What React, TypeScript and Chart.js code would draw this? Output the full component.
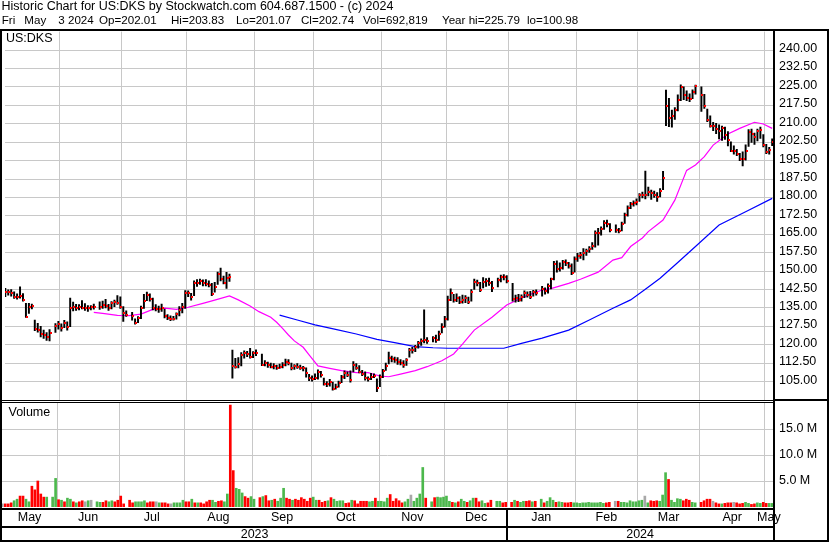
import React, { useEffect, useRef } from "react";
import { Chart, registerables } from "chart.js";

Chart.register(...registerables);

// ---------------- data ----------------
// x positions are weekday slots: slot 0 = Fri May 5 2023 ... slot 260 = Fri May 3 2024
const holidaySlots = [16, 31, 42, 86, 144, 166, 171, 181, 206, 235];
const slotCount = 261;

const highs = [
  // May 2023
  143.0, 142.4, 142.5, 141.6, 140.8, 143.6, 140.9, 136.9, 136.9, 136.6, 130.1, 128.8, 127.5, 126.0, 125.0, 126.2, 128.6, 129.6,
  // Jun
  128.5, 130.0, 129.4, 139.0, 137.4, 136.5, 136.4, 138.0, 136.8, 136.0, 136.0, 136.6, 137.5, 137.8, 138.5, 136.5, 137.6, 138.2, 140.0, 139.5, 135.6,
  // Jul
  133.8, 133.2, 130.6, 131.5, 135.8, 140.6, 141.5, 140.8, 139.0, 136.4, 135.8, 136.6, 134.6, 132.3, 131.8, 131.6, 133.0, 135.6, 136.9, 142.1,
  // Aug
  142.0, 141.0, 146.0, 146.6, 146.8, 146.5, 146.6, 146.0, 145.0, 145.4, 149.6, 151.2, 148.0, 149.5, 148.8, 117.9, 114.5, 114.8, 116.8, 117.6, 117.4, 118.6, 117.2,
  // Sep
  118.0, 116.2, 113.6, 113.0, 112.6, 112.4, 111.8, 112.2, 112.8, 114.2, 114.0, 112.6, 112.0, 112.4, 111.8, 111.2, 110.6, 108.0, 107.4, 108.2,
  // Oct
  109.8, 109.2, 106.5, 105.0, 106.0, 104.8, 104.0, 105.2, 107.6, 109.4, 109.0, 109.4, 113.2, 112.4, 111.6, 109.6, 109.0, 107.0, 108.4, 108.2, 106.2, 107.8,
  // Nov
  110.0, 112.6, 117.0, 115.4, 115.0, 114.8, 114.0, 113.6, 114.4, 118.6, 119.0, 119.8, 121.4, 122.4, 134.2, 123.0, 123.4, 124.0, 125.6, 128.6, 131.6,
  // Dec
  139.8, 142.8, 140.6, 140.8, 139.6, 140.2, 140.0, 139.4, 142.5, 146.8, 146.4, 145.4, 147.4, 147.0, 147.2, 145.8, 147.2, 148.4, 148.6, 148.2,
  // Jan 2024
  145.0, 140.2, 140.6, 140.4, 142.0, 141.6, 141.8, 142.2, 142.4, 143.8, 143.2, 144.8, 147.2, 154.0, 154.2, 153.4, 154.4, 154.6, 153.6, 153.0, 155.8,
  // Feb
  157.2, 157.6, 159.2, 159.0, 160.0, 161.6, 166.4, 167.4, 168.0, 170.6, 170.8, 169.4, 168.8, 167.4, 170.0, 173.6, 176.6, 178.0, 178.6, 179.4,
  // Mar
  181.6, 182.2, 190.7, 184.2, 183.0, 182.6, 182.0, 183.6, 190.6, 223.7, 220.3, 215.6, 216.6, 221.8, 225.79, 225.0, 223.4, 222.2, 223.8, 225.7,
  // Apr
  225.0, 222.0, 216.0, 213.2, 210.6, 210.2, 209.6, 209.0, 208.6, 206.8, 202.6, 201.0, 199.6, 198.0, 198.6, 201.4, 207.6, 207.8, 206.2, 207.8, 208.6, 205.6,
  // May
  201.6, 200.4, 203.83,
];

const lows = [
  139.6, 140.2, 139.8, 138.9, 138.6, 139.0, 137.8, 131.2, 132.8, 134.6, 125.8, 125.2, 123.2, 122.6, 121.8, 121.6, 125.0, 126.4,
  125.6, 127.0, 126.0, 127.4, 133.8, 134.0, 134.2, 134.6, 134.0, 133.6, 134.2, 134.5, 134.4, 134.8, 135.0, 134.0, 134.6, 135.5, 136.4, 134.8, 129.5,
  131.6, 130.0, 128.4, 129.0, 130.6, 134.8, 138.0, 137.8, 134.2, 133.8, 133.2, 133.6, 131.0, 130.2, 129.8, 130.0, 130.4, 131.8, 133.0, 134.8,
  139.6, 138.2, 140.0, 143.8, 144.6, 144.0, 144.0, 143.6, 140.0, 141.4, 144.6, 146.0, 144.8, 143.0, 145.8, 106.4, 110.5, 110.6, 111.4, 114.6, 115.2, 114.6, 114.8,
  115.6, 111.5, 111.4, 110.8, 110.6, 110.2, 110.0, 110.4, 110.6, 111.4, 111.8, 109.8, 110.0, 110.4, 110.0, 109.4, 106.8, 105.4, 105.2, 105.8,
  106.0, 106.8, 103.6, 103.0, 103.2, 101.5, 102.0, 102.8, 104.6, 106.2, 107.0, 104.8, 109.0, 110.0, 108.6, 107.4, 105.6, 105.2, 105.8, 106.6, 100.98, 103.0,
  106.6, 109.6, 112.2, 113.0, 112.8, 112.0, 111.8, 110.8, 111.6, 115.0, 116.6, 117.2, 118.6, 119.8, 120.8, 120.6, 121.2, 121.0, 121.8, 124.8, 127.2,
  130.0, 138.0, 137.4, 137.6, 136.8, 137.0, 137.2, 136.8, 137.8, 142.6, 144.0, 141.6, 143.2, 143.8, 144.2, 141.6, 143.6, 145.6, 146.4, 145.2,
  137.8, 137.4, 137.6, 137.8, 139.2, 139.4, 138.8, 139.8, 140.2, 139.8, 140.6, 141.0, 142.8, 146.4, 149.6, 150.0, 150.8, 152.2, 151.2, 148.6, 149.6,
  154.0, 155.2, 154.6, 156.4, 157.6, 158.8, 159.8, 160.6, 164.6, 167.0, 168.0, 166.0, 165.8, 165.6, 166.4, 169.4, 172.4, 175.4, 176.4, 177.0,
  178.4, 179.8, 179.4, 180.6, 179.2, 180.0, 178.4, 180.2, 183.2, 209.2, 208.8, 208.6, 211.8, 215.2, 219.4, 219.8, 219.4, 219.0, 220.2, 222.0,
  215.0, 216.2, 210.8, 208.6, 207.2, 206.0, 203.8, 203.2, 203.6, 201.0, 198.6, 197.6, 197.0, 195.0, 192.8, 195.2, 200.8, 202.4, 201.6, 203.0, 204.0, 200.6,
  197.8, 197.6, 201.07,
];

const closes = [
  141.6, 141.4, 141.2, 139.5, 139.6, 140.0, 138.2, 131.5, 135.5, 135.8, 126.4, 126.1, 124.4, 124.0, 123.3, 125.0, 127.5, 128.3,
  126.8, 128.8, 127.4, 134.9, 135.5, 135.0, 135.3, 135.1, 134.8, 134.8, 135.3, 135.3, 135.6, 136.2, 136.0, 134.8, 136.9, 137.4, 137.0, 135.5, 133.1,
  132.1, 131.7, 129.0, 130.8, 134.8, 138.0, 140.3, 138.5, 134.8, 134.5, 134.5, 135.0, 131.7, 130.8, 130.6, 130.6, 132.4, 134.2, 135.5, 141.2,
  141.0, 139.3, 145.3, 145.0, 146.1, 145.3, 144.8, 144.5, 140.7, 143.6, 148.7, 146.6, 145.3, 147.0, 147.5, 111.5, 111.1, 112.0, 115.8, 116.5, 116.2, 115.2, 116.5,
  116.8, 111.8, 112.5, 111.8, 111.1, 111.2, 110.7, 111.1, 111.8, 113.1, 112.7, 110.4, 111.4, 111.1, 110.7, 110.4, 108.4, 106.4, 106.0, 106.4,
  109.1, 107.7, 104.1, 103.9, 105.0, 102.2, 103.0, 104.6, 106.8, 108.4, 107.7, 105.7, 111.8, 110.7, 109.1, 108.1, 106.4, 105.9, 107.0, 107.3, 102.6, 107.0,
  109.2, 111.2, 114.5, 114.1, 113.8, 113.1, 112.5, 111.8, 113.8, 117.9, 117.9, 119.0, 120.6, 121.7, 122.0, 121.7, 122.6, 122.0, 124.3, 127.4, 130.4,
  138.3, 141.2, 138.3, 139.0, 137.6, 138.3, 138.9, 137.6, 141.6, 145.7, 145.0, 142.3, 145.7, 146.1, 145.0, 143.0, 146.4, 147.7, 147.5, 146.1,
  138.5, 138.9, 138.3, 139.6, 141.0, 140.3, 139.6, 141.6, 141.0, 142.6, 142.0, 144.0, 146.7, 152.9, 150.7, 151.1, 153.6, 153.2, 152.2, 149.4, 155.0,
  156.3, 156.6, 157.2, 158.3, 158.9, 160.2, 165.4, 165.6, 167.0, 169.6, 169.2, 166.7, 166.7, 166.5, 169.2, 172.9, 175.8, 177.3, 177.9, 178.3,
  180.8, 181.0, 181.0, 182.3, 181.6, 181.0, 180.3, 182.7, 188.0, 217.3, 212.2, 213.1, 215.6, 219.6, 225.1, 221.7, 220.6, 219.9, 223.1, 225.3,
  221.5, 217.3, 211.5, 209.2, 209.2, 207.8, 207.1, 208.1, 205.6, 203.4, 199.0, 199.0, 197.5, 195.6, 195.5, 199.0, 206.5, 205.8, 204.7, 207.2, 207.5, 201.3,
  198.6, 199.3, 202.74,
];

// volume in millions of shares
const volumes = [
  0.6, 0.6, 0.6, 0.8, 1.2, 1.5, 2.1, 2.1, 1.5, 1.0, 4.0, 3.3, 5.0, 2.5, 1.9, 1.9, 1.9, 5.5,
  1.4, 1.3, 1.0, 1.7, 1.5, 1.0, 0.8, 1.0, 1.2, 1.0, 1.2, 1.3, 1.0, 0.9, 0.9, 1.2, 1.0, 1.2, 1.0, 1.3, 2.1,
  0.6, 1.3, 0.8, 1.0, 1.0, 1.0, 1.2, 0.8, 1.0, 1.0, 1.0, 0.8, 0.8, 0.8, 0.6, 0.6, 0.8, 0.8, 0.8, 1.3,
  1.0, 1.0, 1.5, 0.8, 0.8, 0.8, 0.6, 1.0, 1.3, 1.3, 0.9, 1.1, 1.2, 1.0, 2.5, 19.6, 7.0, 3.6, 3.4, 2.7, 2.0, 1.7, 2.0,
  1.5, 1.8, 2.0, 2.2, 1.2, 1.3, 1.5, 1.1, 1.7, 3.6, 1.7, 1.5, 1.3, 1.5, 1.3, 1.8, 1.5, 1.1, 1.7, 1.9,
  1.3, 1.3, 0.9, 1.1, 1.2, 1.8, 1.5, 1.1, 1.2, 1.2, 0.7, 0.8, 1.3, 1.2, 0.6, 1.1, 1.1, 1.1, 1.0, 1.1, 1.7, 1.1,
  1.1, 1.0, 1.7, 2.4, 1.1, 1.6, 1.2, 0.8, 1.0, 1.5, 2.3, 1.1, 1.7, 2.5, 7.6, 1.7, 1.0, 1.8, 1.9, 1.8, 1.9,
  2.1, 1.1, 0.9, 0.8, 1.0, 1.5, 1.1, 0.9, 1.2, 1.7, 1.7, 1.0, 1.2, 0.7, 0.8, 1.3, 1.1, 1.1, 0.8, 0.9,
  0.9, 1.3, 1.1, 0.9, 1.1, 1.1, 1.2, 1.0, 1.1, 1.5, 0.8, 1.1, 1.8, 1.3, 0.9, 1.0, 0.9, 0.8, 0.8, 0.9, 0.8,
  0.8, 0.7, 0.8, 0.8, 0.9, 0.8, 0.8, 0.8, 0.9, 0.7, 0.8, 0.9, 1.1, 1.1, 0.9, 0.9, 0.8, 1.2, 1.0, 1.0,
  1.2, 1.3, 2.1, 0.8, 1.2, 1.1, 1.2, 1.1, 2.3, 6.6, 5.3, 1.3, 0.9, 1.6, 1.5, 1.2, 1.5, 1.3, 0.9, 0.8,
  0.9, 1.2, 1.5, 1.5, 1.1, 0.8, 0.6, 0.6, 0.7, 0.8, 0.8, 0.9, 0.8, 0.6, 0.7, 0.9, 0.7, 0.5, 0.6, 0.8, 0.7, 0.9,
  0.7, 0.7, 0.69,
];

// moving averages (slot, value)
const maPinkSlots = [30, 33, 38, 42, 46, 50, 54, 58, 62, 67, 71, 76, 79, 83, 86, 90, 92, 94, 96, 98, 101, 103, 106, 110, 114, 119, 123, 127, 130, 134, 139, 143, 148, 152, 155, 159, 165, 170, 176, 182, 185, 191, 195, 201, 206, 209, 212, 216, 218, 223, 227, 231, 234, 237, 240, 245, 249, 254, 257, 260];
const maPinkValues = [133.2, 132.8, 132.0, 131.9, 132.5, 134.4, 134.9, 134.4, 135.3, 136.9, 138.2, 139.9, 138.3, 135.8, 133.5, 131.2, 129.2, 126.7, 124.0, 121.6, 119.0, 115.9, 111.4, 110.4, 109.5, 108.7, 108.7, 107.3, 107.0, 108.1, 109.5, 111.1, 113.5, 116.3, 120.3, 126.0, 131.2, 136.2, 139.6, 142.3, 142.9, 145.0, 146.7, 149.6, 154.5, 155.5, 160.0, 163.5, 166.1, 170.8, 178.9, 191.0, 193.2, 196.6, 201.3, 205.8, 208.1, 210.6, 209.9, 208.1];
const maBlueSlots = [93, 99, 105, 112, 119, 126, 132, 139, 145, 150, 160, 169, 175, 182, 191, 198, 206, 212, 217, 222, 228, 234, 242, 251, 260];
const maBlueValues = [132.1, 130.1, 128.1, 126.3, 124.4, 122.2, 120.9, 119.3, 118.8, 118.6, 118.6, 118.6, 120.6, 122.7, 126.0, 130.1, 134.9, 138.3, 142.6, 147.1, 153.5, 160.0, 168.8, 174.2, 179.6];

const monthGridSlots = [19, 40, 62, 85, 105, 128, 150, 171, 194, 215, 236, 258];
const monthLabels = ["May", "Jun", "Jul", "Aug", "Sep", "Oct", "Nov", "Dec", "Jan", "Feb", "Mar", "Apr", "May"];
const yearLabels = ["2023", "2024"];
const yearBreakSlot = 171;

const priceTicks = [105, 112.5, 120, 127.5, 135, 142.5, 150, 157.5, 165, 172.5, 180, 187.5, 195, 202.5, 210, 217.5, 225, 232.5, 240];
const volumeTicks = [5, 10, 15];

const headerLine1 = "Historic Chart for US:DKS by Stockwatch.com 604.687.1500 - (c) 2024";
const headerLine2: [string, number][] = [
  ["Fri", 1.7], ["May", 24.3], ["3 2024", 58.3], ["Op=202.01", 99], ["Hi=203.83", 171], ["Lo=201.07", 236],
  ["Cl=202.74", 301], ["Vol=692,819", 363], ["Year hi=225.79", 442], ["lo=100.98", 527],
];

// ---------------- layout / style ----------------
const X_MIN = -0.1;
const X_MAX = 260.28;
const FONT = "'Liberation Sans', Arial, sans-serif";
const GRID = "#c8c8c8";
const GREEN = "#4cb84c";
const RED = "#ff0000";
const GRAY = "#a8a8a8";

export default function App() {
  const priceRef = useRef<HTMLCanvasElement>(null);
  const volRef = useRef<HTMLCanvasElement>(null);

  useEffect(() => {
    const tradingSlots: number[] = [];
    for (let s = 0; s < slotCount; s++) if (!holidaySlots.includes(s)) tradingSlots.push(s);

    const mark = document.createElement("canvas");
    mark.width = 4;
    mark.height = 2;
    const mc = mark.getContext("2d")!;
    mc.fillStyle = RED;
    mc.fillRect(2, 0, 2, 2);

    const crisp = {
      id: "crisp",
      beforeDatasetsDraw(chart: any) {
        chart.ctx.imageSmoothingEnabled = false;
      },
    };

    const bounds = [X_MIN, ...monthGridSlots.map((s) => s - 0.5), X_MAX];
    const monthCenters = monthLabels.map((_, i) => (bounds[i] + bounds[i + 1]) / 2);
    const yearBounds = [X_MIN, yearBreakSlot - 0.5, X_MAX];
    const yearCenters = yearLabels.map((_, i) => (yearBounds[i] + yearBounds[i + 1]) / 2);

    const gridX = () => ({
      type: "linear",
      axis: "x",
      position: "bottom",
      min: X_MIN,
      max: X_MAX,
      bounds: "data",
      offset: false,
      weight: 0,
      grid: { color: GRID, lineWidth: 1, drawTicks: false, offset: false },
      border: { display: false },
      ticks: { display: false },
      afterBuildTicks: (s: any) => {
        s.ticks = monthGridSlots.map((v) => ({ value: v - 0.5 }));
      },
      afterFit: (s: any) => {
        s.height = 0;
      },
    });

    const volumeColors = closes.map((c, i) =>
      i === 0 ? GRAY : c > closes[i - 1] ? GREEN : c < closes[i - 1] ? RED : GRAY
    );

    Chart.defaults.font.family = FONT;

    const priceChart = new Chart(priceRef.current!, {
      type: "bar",
      data: {
        datasets: [
          {
            type: "line",
            data: maPinkSlots.map((x, i) => ({ x, y: maPinkValues[i] })),
            borderColor: "#ff00ff",
            borderWidth: 1.2,
            pointRadius: 0,
            tension: 0,
            order: 3,
          } as any,
          {
            type: "line",
            data: maBlueSlots.map((x, i) => ({ x, y: maBlueValues[i] })),
            borderColor: "#0000ff",
            borderWidth: 1.2,
            pointRadius: 0,
            tension: 0,
            order: 3,
          } as any,
          {
            type: "bar",
            data: tradingSlots.map((x, i) => ({ x, y: [lows[i], highs[i]] })),
            backgroundColor: "#000000",
            borderWidth: 0,
            barThickness: 1.3,
            order: 2,
          } as any,
          {
            type: "scatter",
            data: tradingSlots.map((x, i) => ({ x, y: closes[i] })),
            pointStyle: mark,
            pointRadius: 1,
            order: 1,
          } as any,
        ],
      },
      options: {
        responsive: false,
        animation: false,
        devicePixelRatio: 1,
        layout: { padding: { left: 2, top: 31.6, right: 0, bottom: 142.9 } },
        plugins: { legend: { display: false }, tooltip: { enabled: false } },
        scales: {
          x: gridX() as any,
          y: {
            type: "linear",
            position: "right",
            min: 97.5,
            max: 247.5,
            bounds: "data",
            grid: { color: GRID, lineWidth: 1, drawTicks: false },
            border: { display: false },
            ticks: {
              color: "#000",
              font: { family: FONT, size: 12.5 },
              padding: 6,
              labelOffset: -1.5,
              autoSkip: false,
              callback: (v: any) => Number(v).toFixed(2),
            },
            afterBuildTicks: (s: any) => {
              s.ticks = priceTicks.map((v) => ({ value: v }));
            },
            afterFit: (s: any) => {
              s.width = 57;
            },
          } as any,
        },
      },
      plugins: [crisp],
    });

    const yearSeparator = {
      id: "yearSeparator",
      afterDraw(chart: any) {
        const sc = chart.scales.xm;
        const px = sc.getPixelForValue(yearBreakSlot - 0.5);
        const ctx = chart.ctx;
        ctx.save();
        ctx.fillStyle = "#000";
        ctx.fillRect(Math.round(px) - 1, sc.top + 1, 2, chart.height - sc.top - 2);
        ctx.restore();
      },
    };

    const volChart = new Chart(volRef.current!, {
      type: "bar",
      data: {
        datasets: [
          {
            data: tradingSlots.map((x, i) => ({ x, y: volumes[i] })),
            backgroundColor: volumeColors,
            borderWidth: 0,
            barThickness: 2,
          } as any,
        ],
      },
      options: {
        responsive: false,
        animation: false,
        devicePixelRatio: 1,
        layout: { padding: { left: 2, top: 403, right: 0, bottom: 0 } },
        plugins: { legend: { display: false }, tooltip: { enabled: false } },
        scales: {
          x: gridX() as any,
          xm: {
            type: "linear",
            axis: "x",
            position: "bottom",
            min: X_MIN,
            max: X_MAX,
            bounds: "data",
            offset: false,
            weight: 1,
            grid: { display: false, drawTicks: false },
            border: { display: false },
            ticks: {
              autoSkip: false,
              maxRotation: 0,
              minRotation: 0,
              padding: 3,
              color: "#000",
              font: { family: FONT, size: 12.5 },
              callback: (_v: any, i: number) => monthLabels[i],
            },
            afterBuildTicks: (s: any) => {
              s.ticks = monthCenters.map((v) => ({ value: v }));
            },
            afterFit: (s: any) => {
              s.height = 20;
            },
          } as any,
          xy: {
            type: "linear",
            axis: "x",
            position: "bottom",
            min: X_MIN,
            max: X_MAX,
            bounds: "data",
            offset: false,
            weight: 2,
            grid: { display: false, drawTicks: false },
            border: { display: false },
            ticks: {
              autoSkip: false,
              maxRotation: 0,
              minRotation: 0,
              padding: 0,
              color: "#000",
              font: { family: FONT, size: 12.5 },
              callback: (_v: any, i: number) => yearLabels[i],
            },
            afterBuildTicks: (s: any) => {
              s.ticks = yearCenters.map((v) => ({ value: v }));
            },
            afterFit: (s: any) => {
              s.height = 16;
            },
          } as any,
          y: {
            type: "linear",
            position: "right",
            min: 0,
            max: 20,
            bounds: "data",
            grid: { color: GRID, lineWidth: 1, drawTicks: false },
            border: { display: false },
            ticks: {
              color: "#000",
              font: { family: FONT, size: 12.5 },
              padding: 6,
              autoSkip: false,
              callback: (v: any) => `${Number(v).toFixed(1)} M`,
            },
            afterBuildTicks: (s: any) => {
              s.ticks = volumeTicks.map((v) => ({ value: v }));
            },
            afterFit: (s: any) => {
              s.width = 57;
            },
          } as any,
        },
      },
      plugins: [crisp, yearSeparator],
    });

    return () => {
      priceChart.destroy();
      volChart.destroy();
    };
  }, []);

  const text: React.CSSProperties = {
    position: "absolute",
    fontFamily: FONT,
    fontSize: 12.5,
    lineHeight: "14px",
    color: "#000",
    whiteSpace: "pre",
  };
  const line = (left: number, top: number, width: number, height: number): React.CSSProperties => ({
    position: "absolute",
    left,
    top,
    width,
    height,
    background: "#000",
  });

  return (
    <div
      style={{
        position: "fixed",
        left: 0,
        top: 0,
        width: 830,
        height: 543,
        background: "#fff",
        overflow: "hidden",
      }}
    >
      <canvas ref={priceRef} width={830} height={543} style={{ position: "absolute", left: 0, top: 0 }} />
      <canvas ref={volRef} width={830} height={543} style={{ position: "absolute", left: 0, top: 0 }} />

      <div style={{ ...text, left: 1.5, top: -0.7 }}>{headerLine1}</div>
      {headerLine2.map(([t, x]) => (
        <div key={t} style={{ ...text, fontSize: 11.6, left: x, top: 13 }}>
          {t}
        </div>
      ))}
      <div style={{ ...text, left: 6, top: 31 }}>US:DKS</div>
      <div style={{ ...text, left: 8.5, top: 405.3 }}>Volume</div>

      {/* frame */}
      <div style={line(0, 29, 829, 2)} />
      <div style={line(0, 29, 2, 513)} />
      <div style={line(773, 29, 2, 513)} />
      <div style={line(827, 29, 2, 513)} />
      <div style={line(0, 400, 773, 1)} />
      <div style={line(0, 402, 773, 1)} />
      <div style={line(775, 399, 52, 2)} />
      <div style={line(0, 508, 775, 2)} />
      <div style={line(0, 526, 775, 2)} />
      <div style={line(0, 540, 829, 2)} />
    </div>
  );
}
